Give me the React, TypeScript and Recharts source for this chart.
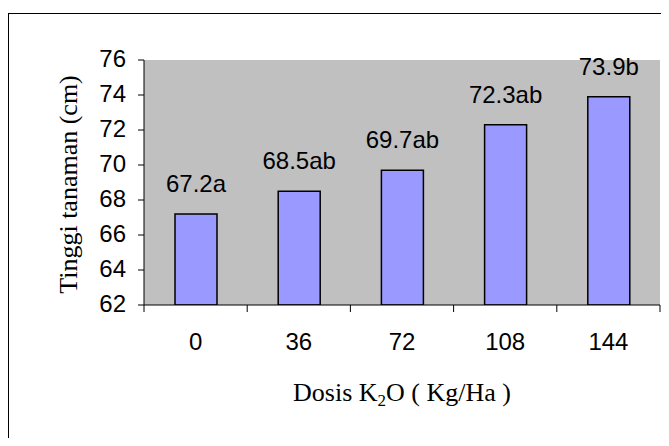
import React from 'react';
import { BarChart, Bar, XAxis, YAxis, CartesianGrid, LabelList, Label } from 'recharts';

// Potassium (K2O) dose levels, kg/ha
const doses = ['0', '36', '72', '108', '144'];
// Mean plant height (cm) per dose
const heights = [67.2, 68.5, 69.7, 72.3, 73.9];
// Significance letters shown after each mean
const notations = ['a', 'ab', 'ab', 'ab', 'b'];
const yTicks = [62, 64, 66, 68, 70, 72, 74, 76];

const data = doses.map((d, i) => ({ dose: d, height: heights[i], note: notations[i] }));

const W = 653;
const H = 430;
const MARGIN = { top: 52, right: 1, left: 0, bottom: 0 };
const Y_AXIS_W = 136;
const X_AXIS_H = 133;
const PLOT_W = W - MARGIN.left - MARGIN.right - Y_AXIS_W;
const BAND = PLOT_W / doses.length;

const SANS = '"Liberation Sans", Arial, sans-serif';
const SERIF = '"Liberation Serif", "Times New Roman", serif';

// Category ticks sit on the band boundaries, labels in the middle of each band
const DoseTick = (props: any) => {
  const { x, y, payload, index } = props;
  const left = x - BAND / 2;
  const right = x + BAND / 2;
  return (
    <g>
      <line x1={left} y1={y} x2={left} y2={y + 7} stroke="#000" strokeWidth={1} />
      {index === doses.length - 1 && (
        <line x1={right} y1={y} x2={right} y2={y + 7} stroke="#000" strokeWidth={1} />
      )}
      <text x={x} y={y + 45} textAnchor="middle" fontFamily={SANS} fontSize={24} fill="#000">
        {payload.value}
      </text>
    </g>
  );
};

const ValueLabel = (props: any) => {
  const { x, y, width, value, index } = props;
  return (
    <text
      x={x + width / 2}
      y={y - 22}
      textAnchor="middle"
      fontFamily={SANS}
      fontSize={24}
      fill="#000"
    >
      {`${value}${notations[index]}`}
    </text>
  );
};

const YTitle = (props: any) => {
  const vb = props.viewBox || { x: 0, y: MARGIN.top, width: Y_AXIS_W, height: 245 };
  const cx = vb.x + 60;
  const cy = vb.y + vb.height / 2 + 2;
  return (
    <text
      transform={`translate(${cx},${cy}) rotate(-90)`}
      textAnchor="middle"
      dominantBaseline="central"
      fontFamily={SERIF}
      fontSize={26}
      fill="#000"
    >
      Tinggi tanaman (cm)
    </text>
  );
};

const XTitle = (props: any) => {
  const vb = props.viewBox || { x: Y_AXIS_W, y: 297, width: PLOT_W, height: X_AXIS_H };
  const cx = vb.x + vb.width / 2;
  const by = vb.y + 96;
  return (
    <text x={cx} y={by} textAnchor="middle" fontFamily={SERIF} fontSize={26} fill="#000">
      <tspan>Dosis K</tspan>
      <tspan dy={5} fontSize={17}>2</tspan>
      <tspan dy={-5}>O ( Kg/Ha )</tspan>
    </text>
  );
};

export default function App() {
  return (
    <div style={{ position: 'relative', width: W, height: H }}>
      <style>{'html, body { overflow: hidden; }'}</style>
      {/* page frame: runs past the right and bottom edges */}
      <div
        style={{
          position: 'absolute',
          left: 0,
          top: 5,
          width: 720,
          height: 480,
          borderLeft: '1px solid #000',
          borderTop: '1px solid #000',
        }}
      />
      <div style={{ position: 'absolute', left: 0, top: 0 }}>
        <BarChart width={W} height={H} data={data} margin={MARGIN} barSize={42}>
          <CartesianGrid horizontal={false} vertical={false} fill="#c0c0c0" />
          <XAxis
            dataKey="dose"
            height={X_AXIS_H}
            tickLine={false}
            tickSize={0}
            tickMargin={0}
            axisLine={{ stroke: '#000' }}
            tick={<DoseTick />}
            interval={0}
          >
            <Label content={<XTitle />} />
          </XAxis>
          <XAxis
            xAxisId="top"
            dataKey="dose"
            orientation="top"
            height={0}
            tick={false}
            tickLine={false}
            axisLine={{ stroke: '#808080' }}
          />
          <YAxis
            domain={[62, 76]}
            ticks={yTicks}
            width={Y_AXIS_W}
            tickSize={6}
            tickMargin={12}
            tickLine={{ stroke: '#000' }}
            axisLine={{ stroke: '#000' }}
            tick={{ fontFamily: SANS, fontSize: 24, fill: '#000', dy: -2 }}
            interval={0}
            allowDataOverflow
          >
            <Label content={<YTitle />} />
          </YAxis>
          <YAxis
            yAxisId="right"
            orientation="right"
            width={0}
            domain={[62, 76]}
            tick={false}
            tickLine={false}
            axisLine={{ stroke: '#808080' }}
          />
          <Bar
            dataKey="height"
            fill="#9999ff"
            stroke="#000"
            strokeWidth={1.5}
            isAnimationActive={false}
          >
            <LabelList dataKey="height" content={<ValueLabel />} />
          </Bar>
        </BarChart>
      </div>
    </div>
  );
}
